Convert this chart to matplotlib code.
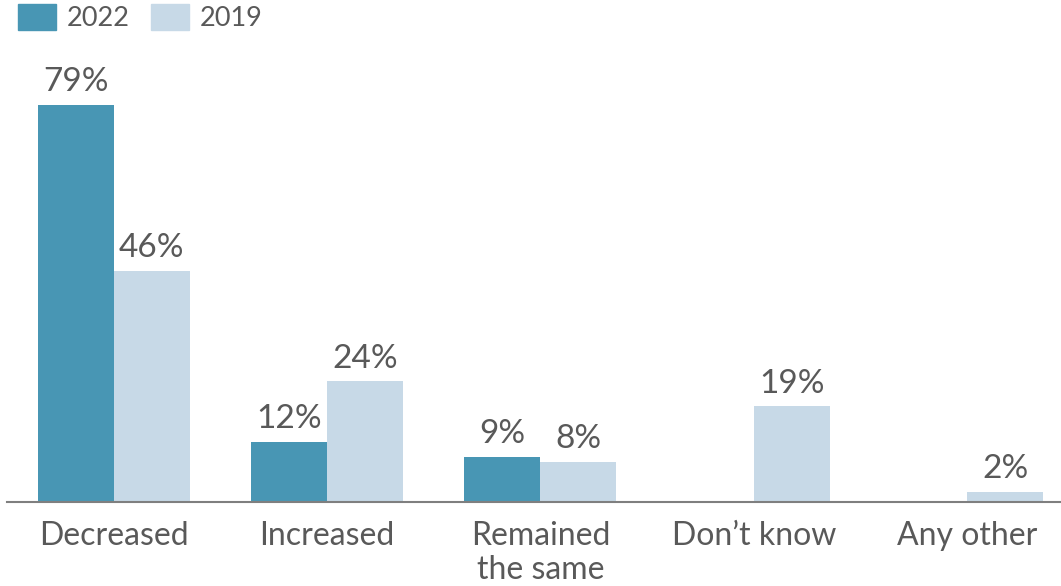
import numpy as np
import matplotlib.pyplot as plt
from matplotlib.patches import Patch

plt.rcParams['font.family'] = ['Lato', 'DejaVu Sans']

categories = ["Decreased", "Increased", "Remained\nthe same", "Don\u2019t know", "Any other"]
vals2022 = [79, 12, 9, None, None]
vals2019 = [46, 24, 8, 19, 2]

col2022 = "#4896b4"
col2019 = "#c7d9e7"
txtCol = "#595959"

fig = plt.figure(figsize=(10.61, 5.86), dpi=100)
ax = fig.add_axes([7/1061, 84/586, 1054/1061, 427.5/586])

x = np.arange(len(categories))
w = 0.356
for i in range(len(categories)):
    if vals2022[i] is not None:
        ax.bar(x[i] - w/2, vals2022[i], w, color=col2022)
        ax.text(x[i] - w/2, vals2022[i] + 1.5, "%d%%" % vals2022[i], ha="center",
                va="bottom", fontsize=24, color=txtCol)
    if vals2019[i] is not None:
        ax.bar(x[i] + w/2, vals2019[i], w, color=col2019)
        ax.text(x[i] + w/2, vals2019[i] + 1.5, "%d%%" % vals2019[i], ha="center",
                va="bottom", fontsize=24, color=txtCol)

ax.set_xlim(-0.5, 4.44)
ax.set_ylim(0, 85)
ax.set_xticks(x)
ax.set_xticklabels(categories, fontsize=23, color=txtCol, linespacing=1.15)
ax.tick_params(axis="x", length=0, pad=14)
ax.set_yticks([])
for s in ["top", "right", "left"]:
    ax.spines[s].set_visible(False)
ax.spines["bottom"].set_color("#7f7f7f")
ax.spines["bottom"].set_linewidth(1.5)

handles = [Patch(color=col2022, label="2022"), Patch(color=col2019, label="2019")]
fig.legend(handles=handles, loc="upper left", bbox_to_anchor=(18/1061, 1 - 4/586), ncol=2,
           frameon=False, fontsize=19.5, handlelength=1.4, handleheight=1.1,
           columnspacing=0.8, handletextpad=0.4, borderpad=0, borderaxespad=0,
           labelcolor=txtCol)

fig.savefig("out.png", dpi=100)
